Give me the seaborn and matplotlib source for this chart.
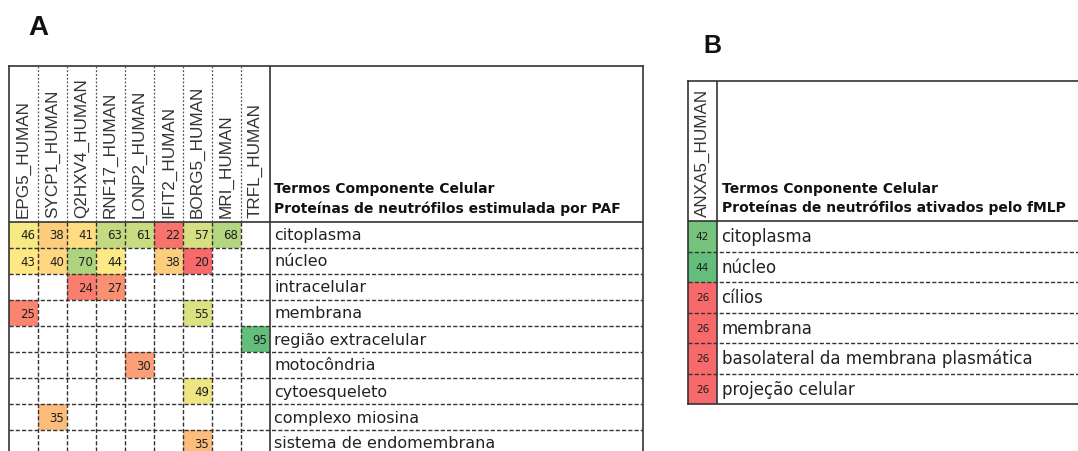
import numpy as np
import pandas as pd
import matplotlib
matplotlib.use("Agg")
import matplotlib.pyplot as plt
import seaborn as sns
from matplotlib.colors import LinearSegmentedColormap, TwoSlopeNorm

nan = np.nan

# ---------------- data ----------------
proteins_a = ["EPG5_HUMAN", "SYCP1_HUMAN", "Q2HXV4_HUMAN", "RNF17_HUMAN", "LONP2_HUMAN",
              "IFIT2_HUMAN", "BORG5_HUMAN", "MRI_HUMAN", "TRFL_HUMAN"]
terms_a = ["citoplasma", "núcleo", "intracelular", "membrana", "região extracelular",
           "motocôndria", "cytoesqueleto", "complexo miosina", "sistema de endomembrana"]
values_a = [
    [46, 38, 41, 63, 61, 22, 57, 68, nan],
    [43, 40, 70, 44, nan, 38, 20, nan, nan],
    [nan, nan, 24, 27, nan, nan, nan, nan, nan],
    [25, nan, nan, nan, nan, nan, 55, nan, nan],
    [nan, nan, nan, nan, nan, nan, nan, nan, 95],
    [nan, nan, nan, nan, 30, nan, nan, nan, nan],
    [nan, nan, nan, nan, nan, nan, 49, nan, nan],
    [nan, 35, nan, nan, nan, nan, nan, nan, nan],
    [nan, nan, nan, nan, nan, nan, 35, nan, nan],
]
header_a = ["Termos Componente Celular", "Proteínas de neutrófilos estimulada por PAF"]

proteins_b = ["ANXA5_HUMAN"]
terms_b = ["citoplasma", "núcleo", "cílios", "membrana",
           "basolateral da membrana plasmática", "projeção celular"]
values_b = [[42], [44], [26], [26], [26], [26]]
header_b = ["Termos Conponente Celular", "Proteínas de neutrófilos ativados pelo fMLP"]

# ---------------- style ----------------
cmap = LinearSegmentedColormap.from_list("excel_ryg", ["#F8696B", "#FFEB84", "#63BE7B"])
LINE = "#333333"
TEXT = "#222222"

W, H = 1078, 452
fig = plt.figure(figsize=(W / 100, H / 100), dpi=100)
fig.patch.set_facecolor("white")


def panel(geom, values, proteins, terms, header, norm, num_size, num_right,
          term_size, hdr_baselines):
    left, top, hdr_bottom, cw, rh, right = geom
    nrows, ncols = len(terms), len(proteins)
    bottom = hdr_bottom + nrows * rh
    ax = fig.add_axes([left / W, 1 - bottom / H, (right - left) / W, (bottom - top) / H])
    df = pd.DataFrame(values, index=terms, columns=proteins)
    sns.heatmap(df, ax=ax, cmap=cmap, norm=norm, cbar=False, annot=True, fmt=".0f",
                annot_kws=dict(color="#1e1e1e", fontsize=num_size),
                xticklabels=False, yticklabels=False)
    if num_right:
        for t in ax.texts:
            x, y = t.get_position()
            t.set_position((x + 0.5 - 3.0 / cw, y))
            t.set_ha("right")
    xmax = (right - left) / cw
    hdr = (hdr_bottom - top) / rh
    ax.set_xlim(0, xmax)
    ax.set_ylim(nrows, -hdr)
    ax.tick_params(length=0)
    for s in ax.spines.values():
        s.set_visible(True)
        s.set_linewidth(1.2)
        s.set_color(LINE)

    dash = (0, (3, 1.5))
    ax.axhline(0, color=LINE, lw=1.2, zorder=3)
    ax.hlines(np.arange(1, nrows), 0, xmax, colors=LINE, linestyles=dash, lw=1.0, zorder=3)
    if ncols > 1:
        ax.vlines(np.arange(1, ncols), 0, nrows, colors=LINE, linestyles=dash, lw=1.0, zorder=3)
        ax.vlines(np.arange(1, ncols), -hdr, 0, colors="#445566", linestyles=(0, (1.5, 1.5)),
                  lw=0.9, zorder=3)
    ax.axvline(ncols, color=LINE, lw=1.2, zorder=3)

    # protein names (rotated header)
    for j, p in enumerate(proteins):
        ax.text(j + 0.5, -5.0 / rh, p, rotation=90, ha="center", va="bottom",
                fontsize=12.3, family="Liberation Sans", color="#333333")
    # bold header
    tx = ncols + 4.5 / cw
    for line, base in zip(header, hdr_baselines):
        ax.text(tx, -(hdr_bottom - base) / rh, line, ha="left", va="baseline",
                fontsize=10, fontweight="bold", family="DejaVu Sans", color="#111111")
    # term labels
    for i, term in enumerate(terms):
        ax.text(tx, i + 0.5, term, ha="left", va="center", fontsize=term_size,
                family="DejaVu Sans", color=TEXT)
    return ax


panel((9, 67, 223, 29, 26, 643), values_a, proteins_a, terms_a, header_a,
      TwoSlopeNorm(vmin=20, vcenter=43.5, vmax=95), 8.5, True, 11.5, (193, 213))
panel((688, 82, 222, 29, 30.5, 1081), values_b, proteins_b, terms_b, header_b,
      TwoSlopeNorm(vmin=26, vcenter=28, vmax=44), 7.5, False, 12, (193, 212))

fig.text(28 / W, 1 - 35 / H, "A", fontsize=20, fontweight="bold",
         family="Liberation Sans", va="baseline", color="#111111")
fig.text(703 / W, 1 - 53 / H, "B", fontsize=18, fontweight="bold",
         family="Liberation Sans", va="baseline", color="#111111")

fig.savefig("out.png", dpi=100, facecolor="white")
